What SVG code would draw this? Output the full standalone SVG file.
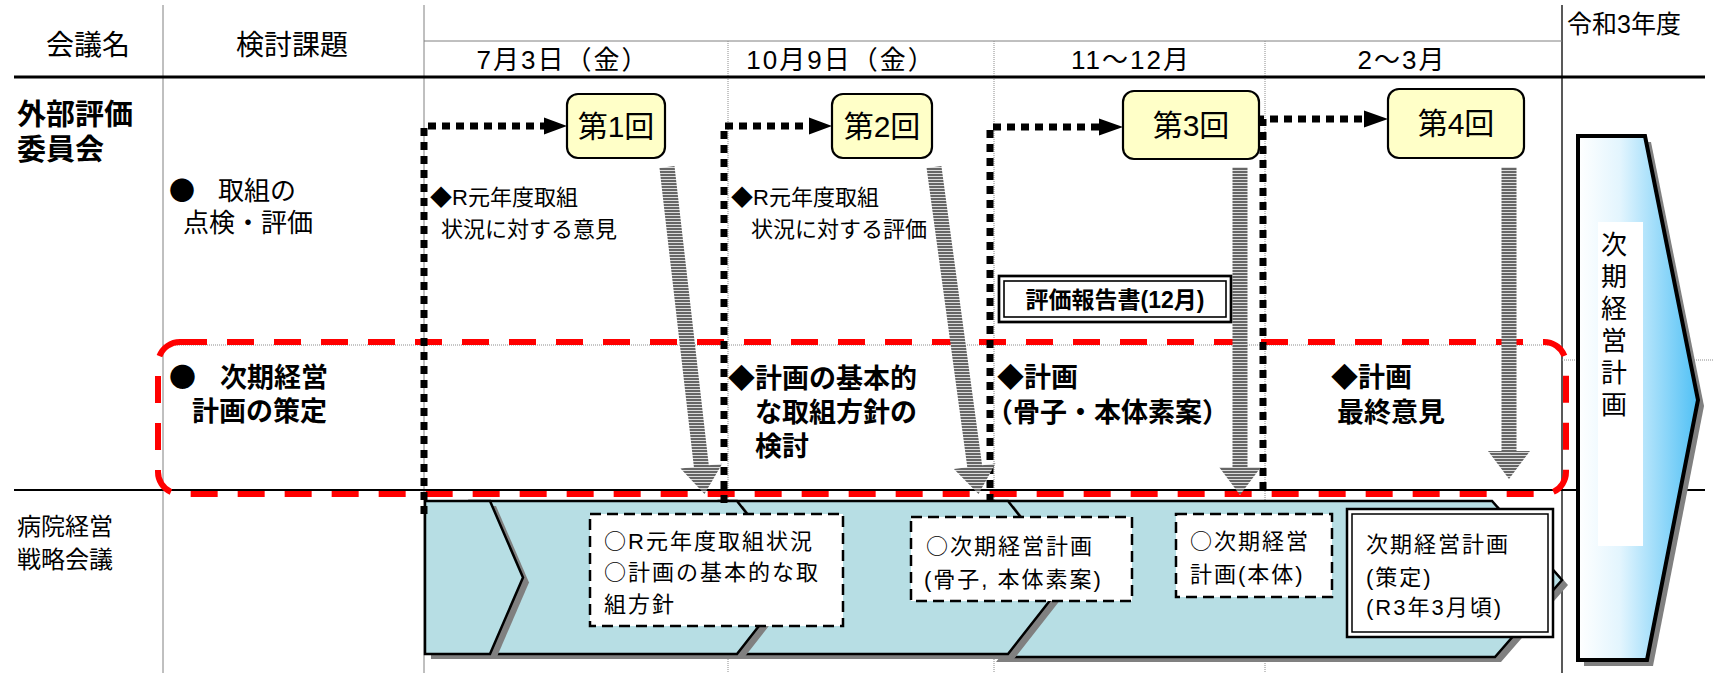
<svg xmlns="http://www.w3.org/2000/svg" width="1713" height="673" viewBox="0 0 1713 673">
<style>
text{font-family:'Liberation Sans','Noto Sans CJK JP',sans-serif;fill:#000}
.cj{font-family:'Noto Sans CJK JP',sans-serif}
.hd{font-size:28px}
.dt{font-size:26px;letter-spacing:2px}
.lb{font-size:27px;font-weight:bold}
.lb2{font-size:29px;font-weight:bold}
.rg{font-size:26px}
.nt{font-size:22px}
.bt{font-size:22px;letter-spacing:2px}
.mt{font-size:30px;text-anchor:middle}
.grid{stroke:#808080;stroke-width:1;fill:none}
.gdot{stroke:#8c8c8c;stroke-width:1;stroke-dasharray:1 1;fill:none}
.meet{fill:#FFFFC8;stroke:#000;stroke-width:2.2}
.teal{fill:#B7DEE4;stroke:#000;stroke-width:2.5;stroke-linejoin:miter}
.shadow{fill:#808080}
.dash{fill:#fff;stroke:#000;stroke-width:2.5;stroke-dasharray:11 6}
.dot{fill:none;stroke:#000;stroke-width:7;stroke-dasharray:8 6}
.stripe{fill:url(#stripes)}
</style>
<defs>
<pattern id="stripes" width="8" height="3" patternUnits="userSpaceOnUse">
<rect width="8" height="3" fill="#dcdcdc"/>
<rect width="8" height="2" fill="#666666"/>
</pattern>
<linearGradient id="blue" x1="0" y1="0" x2="1" y2="0">
<stop offset="0" stop-color="#ffffff"/>
<stop offset="0.35" stop-color="#e3f5fe"/>
<stop offset="1" stop-color="#4fc0f5"/>
</linearGradient>
<path id="s1" d="M425,501 H490 L523,577.5 L490,654 H425 Z"/>
<path id="s2" d="M470,501 H737 L797,577.5 L737,654 H470 L503,577.5 Z"/>
<path id="s3" d="M720,501 H1008 L1068,577.5 L1008,654 H720 L780,577.5 Z"/>
<path id="s4" d="M990,501 H1492 L1562,580 L1495,657 H990 L1050,580 Z"/>
</defs>
<rect width="1713" height="673" fill="#fff"/>

<g id="grid">
<line class="grid" x1="163" y1="5" x2="163" y2="673"/>
<line class="grid" x1="424" y1="5" x2="424" y2="673"/>
<line x1="1562" y1="5" x2="1562" y2="673" stroke="#222" stroke-width="1.5"/>
<line class="grid" x1="424" y1="41" x2="1562" y2="41"/>
<line class="gdot" x1="728" y1="41" x2="728" y2="673"/>
<line class="gdot" x1="994" y1="41" x2="994" y2="673"/>
<line class="gdot" x1="1265" y1="41" x2="1265" y2="673"/>
<line class="gdot" x1="163" y1="345" x2="1562" y2="345"/>
<line class="gdot" x1="1562" y1="360" x2="1713" y2="360"/>
<line x1="14" y1="77" x2="1705" y2="77" stroke="#000" stroke-width="3"/>
<line x1="14" y1="490" x2="1705" y2="490" stroke="#000" stroke-width="2"/>
</g>

<g id="header">
<text class="hd" x="88" y="55" text-anchor="middle">会議名</text>
<text class="hd" x="292" y="55" text-anchor="middle">検討課題</text>
<text class="dt" x="563" y="69" text-anchor="middle">7月3日（金）</text>
<text class="dt" x="841" y="69" text-anchor="middle">10月9日（金）</text>
<text class="dt" x="1131" y="69" text-anchor="middle">11～12月</text>
<text class="dt" x="1402" y="69" text-anchor="middle">2～3月</text>
<text x="1567" y="33" style="font-size:25px">令和3年度</text>
</g>

<g id="label-gaibu">
<text class="lb2" x="17" y="125">外部評価</text>
<text class="lb2" x="17" y="160">委員会</text>
</g>
<g id="label-byoin">
<text x="17" y="535" style="font-size:24px">病院経営</text>
<text x="17" y="568" style="font-size:24px">戦略会議</text>
</g>
<g id="topic-tenken">
<text class="rg cj" x="169" y="200">●</text>
<text class="rg" x="218" y="200">取組の</text>
<text class="rg" x="183" y="232">点検・評価</text>
</g>
<g id="topic-sakutei">
<text class="lb cj" x="169" y="387">●</text>
<text class="lb" x="220" y="387">次期経営</text>
<text class="lb" x="192" y="421">計画の策定</text>
</g>

<g id="red-frame">
<rect x="158" y="342" width="1408" height="152" rx="22" fill="none" stroke="#ff0000" stroke-width="6" stroke-dasharray="27 20"/>
</g>

<g id="process-band">
<use href="#s4" x="6" y="5" class="shadow"/>
<use href="#s4" class="teal"/>
<use href="#s3" x="6" y="5" class="shadow"/>
<use href="#s3" class="teal"/>
<use href="#s2" x="6" y="5" class="shadow"/>
<use href="#s2" class="teal"/>
<use href="#s1" x="6" y="5" class="shadow"/>
<use href="#s1" class="teal"/>
</g>

<g id="connectors">
<path class="dot" d="M424,514 V126 H545"/>
<polygon points="544,117.5 567,126 544,134.5"/>
<path class="dot" d="M724,503 V126 H810"/>
<polygon points="809,117.5 832,126 809,134.5"/>
<path class="dot" d="M990,502 V127 H1100"/>
<polygon points="1099,118.5 1123,127 1099,135.5"/>
<path class="dot" d="M1263,490 V119 H1365"/>
<polygon points="1364,110.5 1388,119 1364,127.5"/>
<polygon class="stripe" points="674.5,166 708.8,465.3 722.2,463.8 704.5,494 680.5,468.6 693.9,467 659.5,168"/>
<polygon class="stripe" points="941.4,166 982.1,465.3 995.5,463.5 978.5,494 953.9,469.1 967.3,467.3 926.6,168"/>
<polygon class="stripe" points="1247.5,167 1247.5,467 1261,467 1240,495 1219,467 1232.5,467 1232.5,167"/>
<polygon class="stripe" points="1516.5,167 1516.5,451 1530,451 1509,479 1488,451 1501.5,451 1501.5,167"/>
</g>

<g id="meeting-1">
<rect class="meet" x="567" y="94" width="98" height="64" rx="11"/>
<text class="mt" x="616" y="137">第1回</text>
</g>
<g id="meeting-2">
<rect class="meet" x="832" y="94" width="100" height="64" rx="11"/>
<text class="mt" x="882" y="137">第2回</text>
</g>
<g id="meeting-3">
<rect class="meet" x="1123" y="91" width="136" height="68" rx="11"/>
<text class="mt" x="1191" y="136">第3回</text>
</g>
<g id="meeting-4">
<rect class="meet" x="1388" y="89" width="136" height="69" rx="11"/>
<text class="mt" x="1456" y="134">第4回</text>
</g>

<g id="note-1">
<text class="nt" x="430" y="205">◆R元年度取組</text>
<text class="nt" x="441" y="237">状況に対する意見</text>
</g>
<g id="note-2">
<text class="nt" x="731" y="205">◆R元年度取組</text>
<text class="nt" x="751" y="237">状況に対する評価</text>
</g>
<g id="report">
<rect x="999" y="276" width="232" height="46" fill="#fff" stroke="#000" stroke-width="2.7"/>
<rect x="1004" y="281" width="222" height="36" fill="none" stroke="#000" stroke-width="1.6"/>
<text x="1115" y="308" text-anchor="middle" style="font-size:23px;font-weight:bold">評価報告書(12月)</text>
</g>

<g id="plan-1">
<text class="lb" x="728" y="388">◆計画の基本的</text>
<text class="lb" x="755" y="422">な取組方針の</text>
<text class="lb" x="755" y="456">検討</text>
</g>
<g id="plan-2">
<text class="lb" x="997" y="387">◆計画</text>
<text class="lb" x="986" y="422">（骨子・本体素案）</text>
</g>
<g id="plan-3">
<text class="lb" x="1331" y="387">◆計画</text>
<text class="lb" x="1337" y="422">最終意見</text>
</g>

<g id="box-1">
<rect class="dash" x="590" y="514" width="253" height="112"/>
<text class="bt" x="604" y="549"><tspan class="cj">○</tspan>R元年度取組状況</text>
<text class="bt" x="604" y="580"><tspan class="cj">○</tspan>計画の基本的な取</text>
<text class="bt" x="604" y="612">組方針</text>
</g>
<g id="box-2">
<rect class="dash" x="911" y="517" width="221" height="84"/>
<text class="bt" x="926" y="554"><tspan class="cj">○</tspan>次期経営計画</text>
<text class="bt" x="924" y="587">(骨子, 本体素案)</text>
</g>
<g id="box-3">
<rect class="dash" x="1176" y="514" width="156" height="83"/>
<text class="bt" x="1190" y="549"><tspan class="cj">○</tspan>次期経営</text>
<text class="bt" x="1190" y="582">計画(本体)</text>
</g>
<g id="box-4">
<rect x="1347" y="509" width="206" height="128" fill="#fff" stroke="#000" stroke-width="2.5"/>
<rect x="1352" y="514" width="196" height="118" fill="none" stroke="#000" stroke-width="1.5"/>
<text class="bt" x="1366" y="552">次期経営計画</text>
<text class="bt" x="1366" y="585">(策定)</text>
<text class="bt" x="1366" y="615">(R3年3月頃)</text>
</g>

<g id="next-plan">
<path d="M1584,142 H1651 L1704,406 L1653,666 H1584 Z" fill="#808080"/>
<path d="M1578,136 H1645 L1698,400 L1647,660 H1578 Z" fill="url(#blue)" stroke="#000" stroke-width="4" stroke-linejoin="miter"/>
<rect x="1598" y="222" width="45" height="324" fill="#fff"/>
<text x="1614" style="font-size:26px" text-anchor="middle"><tspan x="1614" y="254">次</tspan><tspan x="1614" y="286">期</tspan><tspan x="1614" y="318">経</tspan><tspan x="1614" y="350">営</tspan><tspan x="1614" y="382">計</tspan><tspan x="1614" y="414">画</tspan></text>
</g>
</svg>
